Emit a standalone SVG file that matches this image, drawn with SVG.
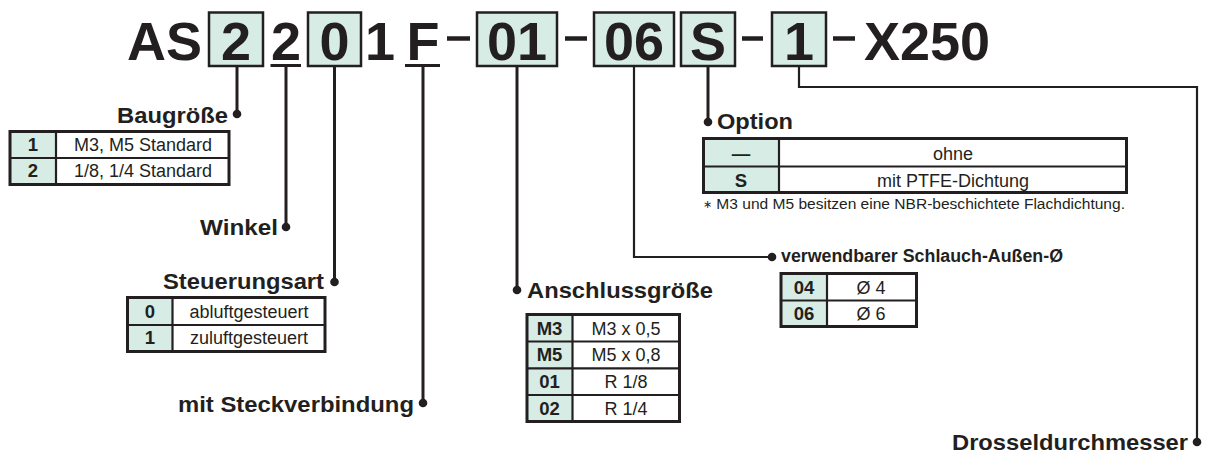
<svg xmlns="http://www.w3.org/2000/svg" width="1205" height="453" viewBox="0 0 1205 453">
<style>
.bg{fill:#ffffff}
.big{font-family:"Liberation Sans",Arial,sans-serif;font-weight:bold;font-size:54px;fill:#231f20}
.lbl{font-family:"Liberation Sans",Arial,sans-serif;font-weight:bold;font-size:22.5px;fill:#231f20}
.lbl2{font-family:"Liberation Sans",Arial,sans-serif;font-weight:bold;font-size:18px;fill:#231f20}
.key{font-family:"Liberation Sans",Arial,sans-serif;font-weight:bold;font-size:18.5px;fill:#231f20;text-anchor:middle}
.val{font-family:"Liberation Sans",Arial,sans-serif;font-size:18px;fill:#231f20;text-anchor:middle}
.note{font-family:"Liberation Sans",Arial,sans-serif;font-size:15.5px;fill:#231f20}
.box{fill:#d6ece4;stroke:#231f20;stroke-width:2.5}
.kc{fill:#d6ece4}
.tb{fill:none;stroke:#231f20;stroke-width:3}
.ln{fill:none;stroke:#231f20;stroke-width:3}
.ln2{fill:none;stroke:#231f20;stroke-width:2.2}
.dash{stroke:#231f20;stroke-width:4.5}
.dot{fill:#231f20}
</style>
<rect class="bg" x="0" y="0" width="1205" height="453"/>

<g id="code">
  <rect class="box" x="209" y="12.5" width="54" height="53.5"/>
  <rect class="box" x="308" y="12.5" width="53" height="53.5"/>
  <rect class="box" x="477" y="12.5" width="80" height="53.5"/>
  <rect class="box" x="594" y="12.5" width="80" height="53.5"/>
  <rect class="box" x="681" y="12.5" width="54" height="53.5"/>
  <rect class="box" x="772" y="12.5" width="54" height="53.5"/>
  <text class="big" x="127" y="60">AS</text>
  <text class="big" x="236" y="60" text-anchor="middle">2</text>
  <text class="big" x="286" y="60" text-anchor="middle">2</text>
  <text class="big" x="334.5" y="60" text-anchor="middle">0</text>
  <text class="big" x="380" y="60" text-anchor="middle">1</text>
  <text class="big" x="423" y="60" text-anchor="middle">F</text>
  <text class="big" x="517" y="60" text-anchor="middle">01</text>
  <text class="big" x="634" y="60" text-anchor="middle">06</text>
  <text class="big" x="708" y="60" text-anchor="middle">S</text>
  <text class="big" x="799" y="60" text-anchor="middle">1</text>
  <text class="big" x="864" y="60">X250</text>
  <line class="dash" x1="447" y1="38.5" x2="470" y2="38.5"/>
  <line class="dash" x1="565" y1="38.5" x2="587" y2="38.5"/>
  <line class="dash" x1="742" y1="38.5" x2="763" y2="38.5"/>
  <line class="dash" x1="833" y1="38.5" x2="855" y2="38.5"/>
  <line class="ln" x1="270.5" y1="65.5" x2="301" y2="65.5"/>
  <line class="ln" x1="405" y1="65.5" x2="440" y2="65.5"/>
</g>

<g id="connectors">
  <line class="ln" x1="237" y1="66" x2="237" y2="114"/>
  <circle class="dot" cx="237" cy="114" r="4.3"/>
  <line class="ln" x1="286" y1="66" x2="286" y2="227"/>
  <circle class="dot" cx="286" cy="227" r="4.3"/>
  <line class="ln" x1="334.5" y1="66" x2="334.5" y2="282"/>
  <circle class="dot" cx="334.5" cy="282" r="4.3"/>
  <line class="ln" x1="423" y1="66" x2="423" y2="403"/>
  <circle class="dot" cx="423" cy="403" r="4.3"/>
  <line class="ln" x1="517" y1="66" x2="517" y2="290"/>
  <circle class="dot" cx="517" cy="290" r="4.3"/>
  <polyline class="ln2" points="634,66 634,257 772,257"/>
  <circle class="dot" cx="772" cy="257" r="4.3"/>
  <line class="ln" x1="708" y1="66" x2="708" y2="122"/>
  <circle class="dot" cx="708" cy="122" r="4.3"/>
  <polyline class="ln2" points="799,66 799,87 1197,87 1197,442"/>
  <circle class="dot" cx="1197" cy="442" r="4.3"/>
</g>

<g id="baugroesse">
  <text class="lbl" x="228" y="123" text-anchor="end" textLength="111" lengthAdjust="spacingAndGlyphs">Baugröße</text>
  <rect class="kc" x="10" y="131.5" width="46" height="53"/>
  <rect class="tb" x="10" y="131.5" width="219" height="53"/>
  <line class="ln2" x1="10" y1="158" x2="229" y2="158"/>
  <line class="ln2" x1="56" y1="131.5" x2="56" y2="184.5"/>
  <text class="key" x="33" y="151">1</text>
  <text class="val" x="143" y="151">M3, M5 Standard</text>
  <text class="key" x="33" y="177">2</text>
  <text class="val" x="143" y="177">1/8, 1/4 Standard</text>
</g>

<g id="winkel">
  <text class="lbl" x="278" y="235" text-anchor="end" textLength="78" lengthAdjust="spacingAndGlyphs">Winkel</text>
</g>

<g id="steuerungsart">
  <text class="lbl" x="324" y="289" text-anchor="end" textLength="161" lengthAdjust="spacingAndGlyphs">Steuerungsart</text>
  <rect class="kc" x="127.5" y="297.5" width="45" height="54"/>
  <rect class="tb" x="127.5" y="297.5" width="197.5" height="54"/>
  <line class="ln2" x1="127.5" y1="325" x2="325" y2="325"/>
  <line class="ln2" x1="172.5" y1="297.5" x2="172.5" y2="351.5"/>
  <text class="key" x="150" y="317.5">0</text>
  <text class="val" x="249" y="317.5">abluftgesteuert</text>
  <text class="key" x="150" y="344">1</text>
  <text class="val" x="249" y="344">zuluftgesteuert</text>
</g>

<g id="steckverbindung">
  <text class="lbl" x="414" y="412" text-anchor="end" textLength="236" lengthAdjust="spacingAndGlyphs">mit Steckverbindung</text>
</g>

<g id="anschlussgroesse">
  <text class="lbl" x="527" y="298" textLength="186" lengthAdjust="spacingAndGlyphs">Anschlussgröße</text>
  <rect class="kc" x="527" y="314.5" width="45.5" height="107"/>
  <rect class="tb" x="527" y="314.5" width="152.5" height="107"/>
  <line class="ln2" x1="527" y1="341.5" x2="679.5" y2="341.5"/>
  <line class="ln2" x1="527" y1="368.3" x2="679.5" y2="368.3"/>
  <line class="ln2" x1="527" y1="395" x2="679.5" y2="395"/>
  <line class="ln2" x1="572.5" y1="314.5" x2="572.5" y2="421.5"/>
  <text class="key" x="549.5" y="335">M3</text>
  <text class="val" x="626" y="335">M3 x 0,5</text>
  <text class="key" x="549.5" y="361">M5</text>
  <text class="val" x="626" y="361">M5 x 0,8</text>
  <text class="key" x="549.5" y="388">01</text>
  <text class="val" x="626" y="388">R 1/8</text>
  <text class="key" x="549.5" y="415">02</text>
  <text class="val" x="626" y="415">R 1/4</text>
</g>

<g id="option">
  <text class="lbl" x="717" y="129" textLength="76" lengthAdjust="spacingAndGlyphs">Option</text>
  <rect class="kc" x="703.5" y="138.5" width="75.5" height="54"/>
  <rect class="tb" x="703.5" y="138.5" width="423" height="54"/>
  <line class="ln2" x1="703.5" y1="166.5" x2="1126.5" y2="166.5"/>
  <line class="ln2" x1="779" y1="138.5" x2="779" y2="192.5"/>
  <text class="key" x="741" y="160">—</text>
  <text class="val" x="953" y="160">ohne</text>
  <text class="key" x="741" y="186.5">S</text>
  <text class="val" x="953" y="186.5">mit PTFE-Dichtung</text>
  <text class="note" x="703" y="208.5" textLength="422" lengthAdjust="spacingAndGlyphs"><tspan font-size="11px" dy="-1">∗</tspan><tspan dy="1"> M3 und M5 besitzen eine NBR-beschichtete Flachdichtung.</tspan></text>
</g>

<g id="schlauch">
  <text class="lbl2" x="781" y="262" textLength="282" lengthAdjust="spacingAndGlyphs">verwendbarer Schlauch-Außen-Ø</text>
  <rect class="kc" x="781" y="273.5" width="46" height="53"/>
  <rect class="tb" x="781" y="273.5" width="135.5" height="53"/>
  <line class="ln2" x1="781" y1="300.5" x2="916.5" y2="300.5"/>
  <line class="ln2" x1="827" y1="273.5" x2="827" y2="326.5"/>
  <text class="key" x="804" y="293.5">04</text>
  <text class="val" x="871" y="293.5">Ø 4</text>
  <text class="key" x="804" y="320">06</text>
  <text class="val" x="871" y="320">Ø 6</text>
</g>

<g id="drossel">
  <text class="lbl" x="1188" y="450" text-anchor="end" textLength="236" lengthAdjust="spacingAndGlyphs">Drosseldurchmesser</text>
</g>
</svg>
